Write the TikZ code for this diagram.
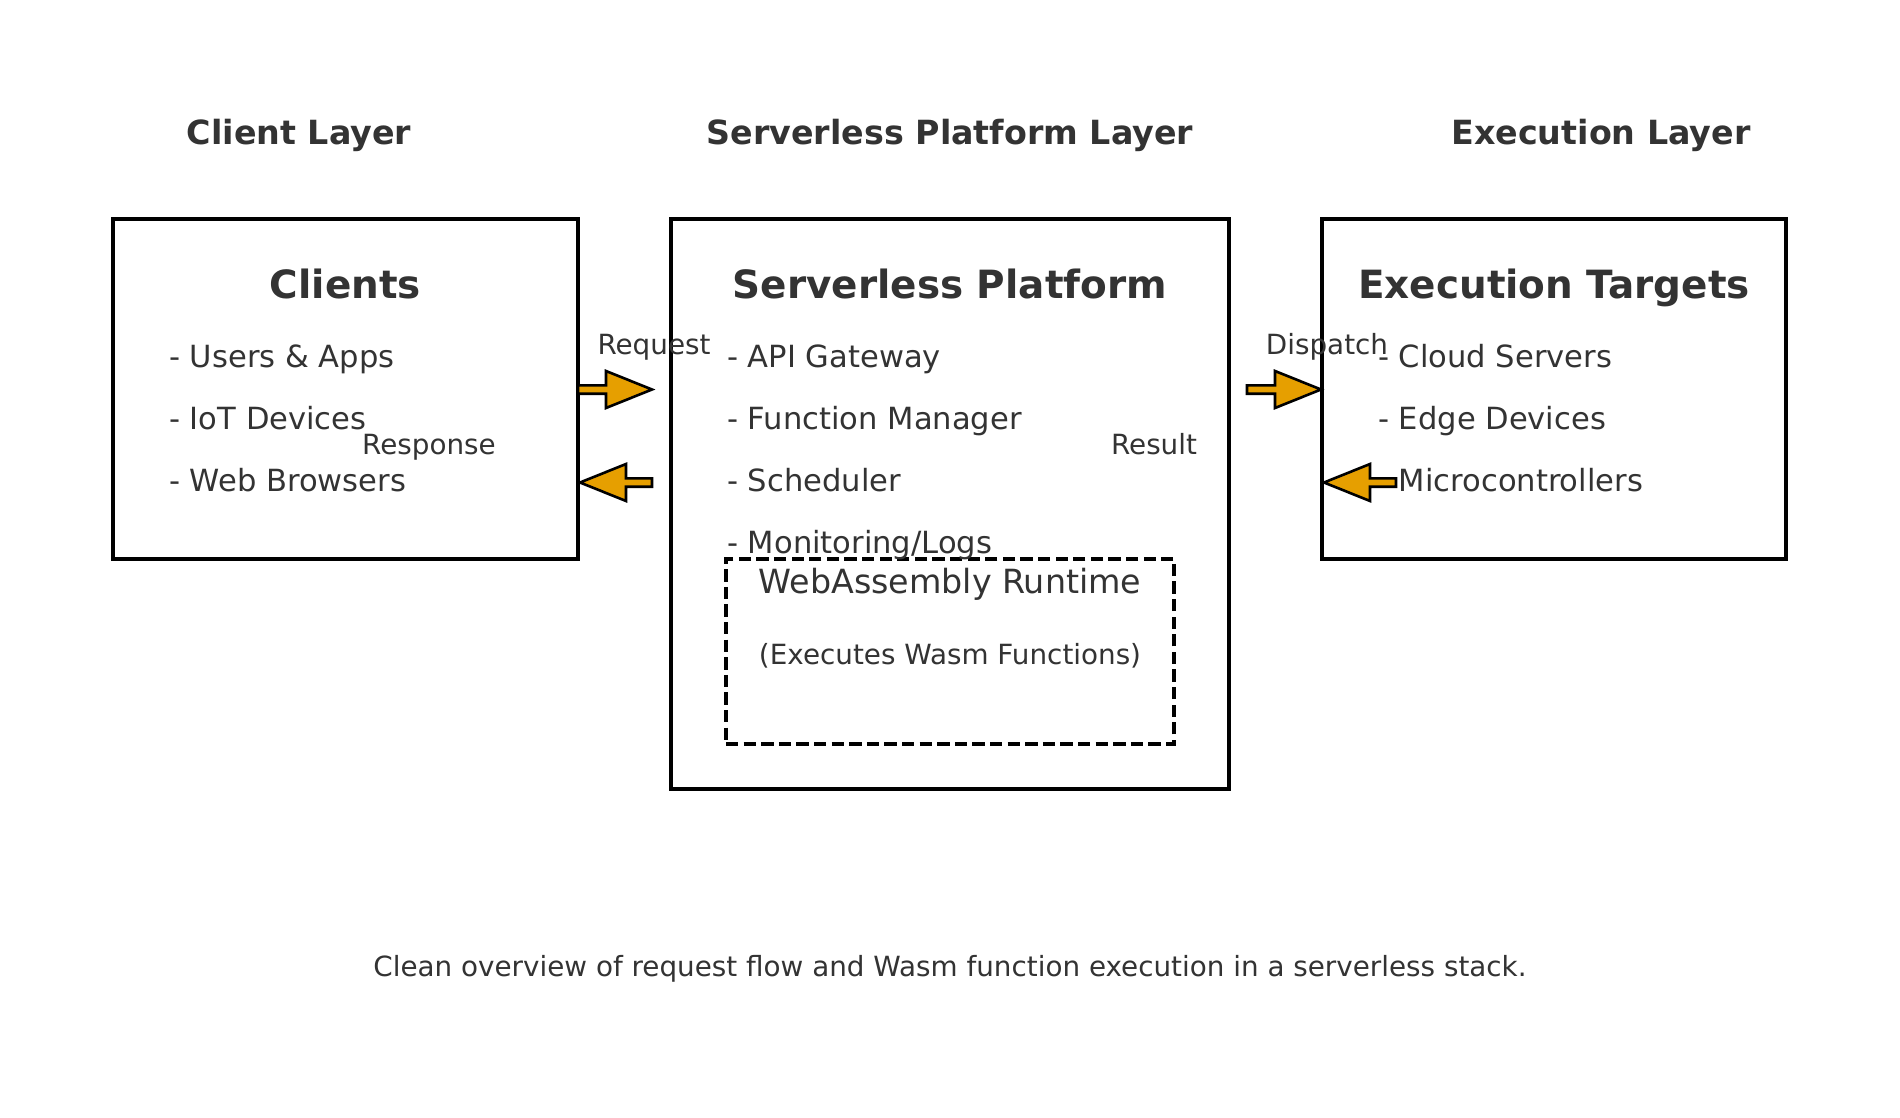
\documentclass[tikz,border=0pt]{standalone}
\usepackage{fontspec}
\setmainfont{DejaVu Sans}
\usetikzlibrary{calc}
\definecolor{txt}{HTML}{333333}
\definecolor{arrowfill}{HTML}{E69F00}
\newcommand\fatarrow[2]{%
  \draw[fatarrowstyle] let \p1=(#1), \p2=(#2), \n1={(\x2-\x1)/abs(\x2-\x1)} in
    (\x1,\y1+4.2pt) -- ({\x2-46pt*\n1},\y1+4.2pt) -- ({\x2-46pt*\n1},\y1+18.5pt) --
    (\x2,\y2) -- ({\x2-46pt*\n1},\y1-18.5pt) -- ({\x2-46pt*\n1},\y1-4.2pt) --
    (\x1,\y1-4.2pt) -- cycle;}
\begin{document}
\begin{tikzpicture}[x=1pt,y=-1pt,
  box/.style={draw=black, line width=4.5pt, fill=white, outer sep=0pt, inner sep=0pt, anchor=north west},
  runtimebox/.style={draw=black, line width=3.4pt, dash pattern=on 12.3pt off 5.3pt, outer sep=0pt, inner sep=0pt, anchor=north west},
  layertitle/.style={font=\fontsize{33.3}{40}\selectfont\bfseries, text=txt, inner sep=0pt, anchor=base},
  boxtitle/.style={font=\fontsize{38.9}{46}\selectfont\bfseries, text=txt, inner sep=0pt, anchor=base},
  item/.style={font=\fontsize{30.56}{36}\selectfont, text=txt, inner sep=0pt, anchor=base west},
  flowlabel/.style={font=\fontsize{27.8}{33}\selectfont, text=txt, inner sep=0pt, anchor=base},
  runtimetitle/.style={font=\fontsize{33.3}{40}\selectfont, text=txt, inner sep=0pt, anchor=base},
  runtimesub/.style={font=\fontsize{27.8}{33}\selectfont, text=txt, inner sep=0pt, anchor=base},
  fatarrowstyle/.style={draw=black, fill=arrowfill, line width=2.6pt, line join=miter}
]
\useasboundingbox[fill=white] (0,0) rectangle (1900,1118);

% layer titles
\node[layertitle] (lclient) at (299,144.5) {Client Layer};
\node[layertitle] (lplatform) at (950,144.5) {Serverless Platform Layer};
\node[layertitle] (lexec) at (1601,144.5) {Execution Layer};

% boxes
\node[box, minimum width=465pt, minimum height=340pt] (clients) at (113,219) {};
\node[box, minimum width=558pt, minimum height=570pt] (platform) at (671,219) {};
\node[box, minimum width=464pt, minimum height=340pt] (targets) at (1322,219) {};
\node[runtimebox, minimum width=448pt, minimum height=185pt] (runtime) at (726,559) {};

% box titles
\node[boxtitle] (tclients) at (345.5,298.5) {Clients};
\node[boxtitle] (tplatform) at (950,298.5) {Serverless Platform};
\node[boxtitle] (ttargets) at (1554,298.5) {Execution Targets};

% client items
\node[item] (c1) at (169,367.5) {- Users \& Apps};
\node[item] (c2) at (169,429.5) {- IoT Devices};
\node[item] (c3) at (169,491.5) {- Web Browsers};

% platform items
\node[item] (p1) at (727,367.5) {- API Gateway};
\node[item] (p2) at (727,429.5) {- Function Manager};
\node[item] (p3) at (727,491.5) {- Scheduler};
\node[item] (p4) at (727,553) {- Monitoring/Logs};

% target items
\node[item] (e1) at (1378,367.5) {- Cloud Servers};
\node[item] (e2) at (1378,429.5) {- Edge Devices};
\node[item] (e3) at (1378,491.5) {- Microcontrollers};

% runtime texts
\node[runtimetitle] (rt1) at (950,593.5) {WebAssembly Runtime};
\node[runtimesub] (rt2) at (950,664.5) {(Executes Wasm Functions)};

% arrows
\coordinate (reqS) at (578,389.5);
\coordinate (reqE) at (652,389.5);
\coordinate (resS) at (652,482.5);
\coordinate (resE) at (580,482.5);
\coordinate (disS) at (1247,389.5);
\coordinate (disE) at (1321,389.5);
\coordinate (rltS) at (1396,482.5);
\coordinate (rltE) at (1324,482.5);
\fatarrow{reqS}{reqE}
\fatarrow{resS}{resE}
\fatarrow{disS}{disE}
\fatarrow{rltS}{rltE}

% arrow labels
\node[flowlabel] (lreq) at (654,354.5) {Request};
\node[flowlabel] (lres) at (429,454.5) {Response};
\node[flowlabel] (ldis) at (1327,354.5) {Dispatch};
\node[flowlabel] (lrlt) at (1154,454.5) {Result};

% caption
\node[flowlabel] (caption) at (950,976) {Clean overview of request flow and Wasm function execution in a serverless stack.};
\end{tikzpicture}
\end{document}
